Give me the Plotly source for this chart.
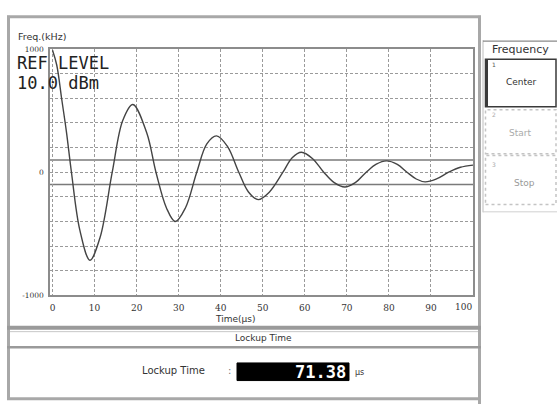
import plotly.graph_objects as go

# ---- data ----
time_us = [0, 1, 2.2, 3.3, 4.5, 6.5, 8.9, 11.3, 14.2, 16.7, 19.1, 22.4, 24.6, 27.1, 29.2,
           31.6, 34.3, 36.7, 39.0, 41.6, 44.3, 46.6, 48.9, 51.6, 54.8, 57.0, 59.2, 61.8,
           64.5, 67.0, 69.5, 72.0, 74.6, 77.0, 79.4, 82.0, 84.3, 86.5, 88.6, 91.2, 94.2,
           97.0, 100.0]
freq_khz = [990, 870, 590, 330, 0, -470, -714, -530, 0, 420, 550, 320, 0, -290, -400,
            -290, 0, 230, 295, 210, 0, -160, -222, -160, 0, 118, 162, 112, 0, -85, -120,
            -85, 0, 65, 92, 64, 0, -55, -78, -56, 0, 40, 58]
threshold_khz = [100, -100]
x_ticks = [0, 10, 20, 30, 40, 50, 60, 70, 80, 90, 100]
x_tick_text = ["0", "10", "20", "30", "40", "50", "60", "70", "80", "90", ""]
last_tick_text = "100"
y_ticks = [-1000, 0, 1000]
y_tick_text = ["-1000", "0", "1000"]
lockup_time = "71.38"

W, H = 557, 410
def px(x): return x / W
def py(y): return 1 - y / H

fig = go.Figure()
fig.add_trace(go.Scatter(x=time_us, y=freq_khz, mode="lines",
                         line=dict(color="#444444", width=1.4, shape="spline", smoothing=1.0),
                         hoverinfo="skip", showlegend=False))

shapes = []
# lockup threshold lines
for t in threshold_khz:
    shapes.append(dict(type="line", xref="paper", yref="y", x0=px(50), x1=px(473), y0=t, y1=t,
                       line=dict(color="#7a7a7a", width=1.5), layer="below"))

GR = "#a8a8a8"
def hline(y, x0, x1, w, c=GR):
    shapes.append(dict(type="line", xref="paper", yref="paper", x0=px(x0), x1=px(x1),
                       y0=py(y), y1=py(y), line=dict(color=c, width=w)))
def vline(x, y0, y1, w, c=GR):
    shapes.append(dict(type="line", xref="paper", yref="paper", x0=px(x), x1=px(x),
                       y0=py(y0), y1=py(y1), line=dict(color=c, width=w)))
def rect(x0, y0, x1, y1, lc, lw, dash="solid", fill="rgba(0,0,0,0)"):
    shapes.append(dict(type="rect", xref="paper", yref="paper", x0=px(x0), x1=px(x1),
                       y0=py(y1), y1=py(y0), line=dict(color=lc, width=lw, dash=dash),
                       fillcolor=fill))

# main frame
hline(13, 7, 481, 3)
vline(8.5, 12, 405, 3)
vline(479.5, 12, 409, 3)
hline(331, 7, 481, 4, "#9a9a9a")
hline(335, 10, 478, 1, "#c8c8c8")
hline(351, 7, 481, 2.5, "#9a9a9a")
hline(403.5, 7, 481, 3)

# right soft-key panel
vline(483, 37, 213, 1, "#bdbdbd")
hline(38, 483, 557, 1.2, "#8a8a8a")
rect(485.5, 56.5, 556, 105, "#3a3a3a", 1.5)
vline(486.5, 56.5, 105, 3, "#3a3a3a")
rect(485.5, 108, 556, 153, "#c4c4c4", 1.5, dash="dot")
rect(485.5, 155, 556, 205, "#c4c4c4", 1.5, dash="dot")
hline(212.5, 483, 557, 1, "#d0d0d0")

# lockup value box
rect(237, 367, 349, 385, "#000000", 1, fill="#000000")

fig.update_layout(shapes=shapes)

ann = []
def text(x, y, s, size, color="#333333", anchor="left", family="DejaVu Sans", bold=False):
    ann.append(dict(x=px(x), y=py(y), xref="paper", yref="paper", text=(f"<b>{s}</b>" if bold else s),
                    showarrow=False, xanchor=anchor, yanchor="middle", borderpad=0,
                    font=dict(size=size, color=color, family=family)))

text(17, 33, "Freq.(kHz)", 9.5, "#333333")
text(16, 60.5, "REF LEVEL", 17, "#222222", family="DejaVu Sans Mono")
text(16, 80.5, "10.0 dBm", 17, "#222222", family="DejaVu Sans Mono")
text(235, 322, "Time(µs)", 9, "#333333", anchor="center")
text(263, 342, "Lockup Time", 9, "#333333", anchor="center")
text(173, 375, "Lockup Time", 10, "#333333", anchor="center")
text(229, 375, ":", 10, "#777777", anchor="center")
text(347, 376, lockup_time, 17, "#ffffff", anchor="right", family="DejaVu Sans Mono", bold=True)
text(354, 377, "µs", 8, "#333333")
text(491, 47, "Frequency", 11, "#333333")
text(490.5, 62, "1", 6, "#555555")
text(521.5, 80, "Center", 9, "#333333", anchor="center")
text(490.5, 113, "2", 6, "#aaaaaa")
text(520, 132, "Start", 9, "#aaaaaa", anchor="center")
text(490.5, 164, "3", 6, "#aaaaaa")
text(524, 183, "Stop", 9, "#999999", anchor="center")

# last x tick label sits just inside the plot edge, as in the reference
ann.append(dict(x=x_ticks[-1], y=py(310), xref="x", yref="paper", text=last_tick_text,
                showarrow=False, xanchor="center", yanchor="middle", xshift=-10, borderpad=0,
                font=dict(size=9, color="#333333", family="DejaVu Serif")))

fig.update_layout(
    annotations=ann,
    width=W, height=H,
    margin=dict(l=0, r=0, t=0, b=0),
    paper_bgcolor="white", plot_bgcolor="white",
    xaxis=dict(domain=[px(50), px(473)], range=[-0.6, 100], tickvals=x_ticks,
               ticktext=x_tick_text,
               showgrid=True, gridcolor="#9a9a9a", griddash="3px,2px", gridwidth=1,
               zeroline=False, showline=True, mirror=True, linecolor="#8c8c8c", linewidth=1.5,
               ticks="", ticklabelstandoff=3,
               tickfont=dict(size=9, color="#333333", family="DejaVu Serif")),
    yaxis=dict(domain=[py(298), py(46)], range=[-1000, 1000], tickvals=y_ticks,
               ticktext=y_tick_text,
               showgrid=True, gridcolor="#9a9a9a", griddash="3px,2px", gridwidth=1,
               minor=dict(dtick=200, tick0=0, showgrid=True, gridcolor="#9a9a9a",
                          griddash="3px,2px", gridwidth=1),
               zeroline=False, showline=True, mirror=True, linecolor="#8c8c8c", linewidth=1.5,
               ticks="", ticklabelstandoff=3,
               tickfont=dict(size=7.5, color="#333333", family="DejaVu Serif")),
)

fig.write_html("out.html", config={"displayModeBar": False},
               post_script="document.documentElement.style.margin='0';"
                           "document.documentElement.style.overflow='hidden';"
                           "document.body.style.margin='0';document.body.style.overflow='hidden';")
